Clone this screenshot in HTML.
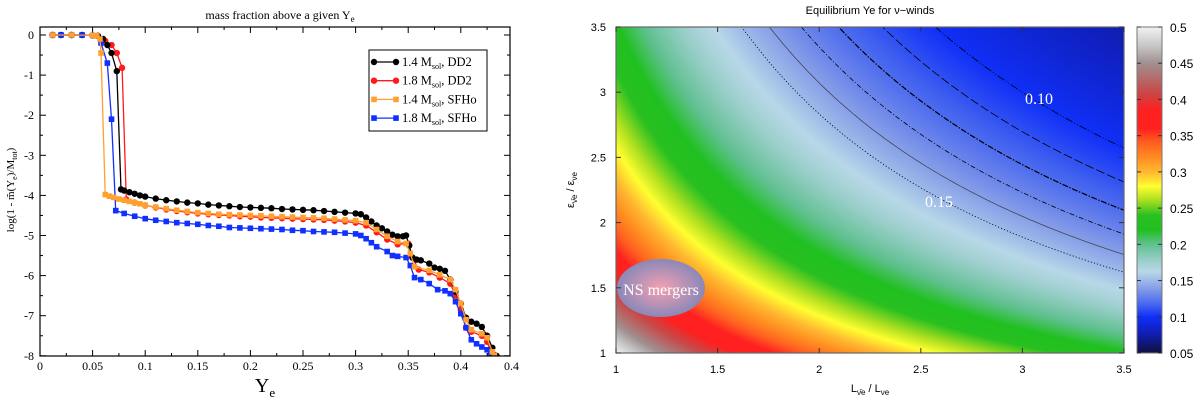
<!DOCTYPE html>
<html><head><meta charset="utf-8"><style>
body{margin:0;background:#fff;width:1200px;height:400px;overflow:hidden;position:relative}
svg{position:absolute;left:0;top:0}
canvas{position:absolute;left:616px;top:27px}
</style></head><body>
<canvas id="heat" width="508" height="326"></canvas>
<svg id="s" width="1200" height="400"></svg>
<script>
// ---------- Left chart data ----------
const blackX=[0.012,0.02,0.03,0.04,0.05,0.055,0.06,0.064,0.068,0.073,0.077,0.08,0.085,0.09,0.095,0.1,0.11,0.12,0.13,0.14,0.15,0.16,0.17,0.18,0.19,0.2,0.21,0.22,0.23,0.24,0.25,0.26,0.27,0.28,0.29,0.3,0.305,0.31,0.315,0.32,0.325,0.33,0.335,0.34,0.345,0.348,0.351,0.354,0.358,0.362,0.37,0.375,0.38,0.385,0.39,0.395,0.4,0.405,0.41,0.415,0.42,0.425,0.43,0.434];
const blackY=[0,0,0,0,-0.01,-0.02,-0.1,-0.25,-0.45,-0.9,-3.85,-3.88,-3.92,-3.96,-4.0,-4.03,-4.08,-4.12,-4.15,-4.18,-4.2,-4.23,-4.25,-4.27,-4.29,-4.3,-4.31,-4.32,-4.34,-4.35,-4.36,-4.37,-4.39,-4.41,-4.43,-4.45,-4.47,-4.55,-4.65,-4.75,-4.82,-4.9,-4.98,-5.02,-5.02,-5.0,-5.25,-5.55,-5.6,-5.62,-5.7,-5.8,-5.83,-5.88,-6.1,-6.4,-6.7,-7.05,-7.15,-7.2,-7.28,-7.5,-7.8,-8.0];
const redX=[0.012,0.03,0.05,0.055,0.058,0.062,0.068,0.073,0.078,0.082,0.09,0.1,0.11,0.12,0.13,0.14,0.15,0.16,0.17,0.18,0.19,0.2,0.21,0.22,0.23,0.24,0.25,0.26,0.27,0.28,0.29,0.3,0.31,0.32,0.33,0.34,0.35,0.354,0.36,0.37,0.38,0.39,0.395,0.4,0.405,0.41,0.42,0.425,0.43];
const redY=[0,0,-0.01,-0.02,-0.1,-0.15,-0.25,-0.45,-0.82,-4.1,-4.18,-4.25,-4.3,-4.35,-4.39,-4.42,-4.45,-4.47,-4.49,-4.5,-4.52,-4.53,-4.55,-4.56,-4.57,-4.58,-4.59,-4.6,-4.61,-4.63,-4.65,-4.68,-4.75,-4.92,-5.1,-5.22,-5.2,-5.55,-5.85,-5.92,-6.05,-6.2,-6.5,-6.85,-7.3,-7.4,-7.5,-7.65,-8.0];
const orangeX=[0.012,0.03,0.05,0.054,0.057,0.058,0.062,0.066,0.07,0.075,0.08,0.085,0.09,0.095,0.1,0.11,0.12,0.13,0.14,0.15,0.16,0.17,0.18,0.19,0.2,0.21,0.22,0.23,0.24,0.25,0.26,0.27,0.28,0.29,0.3,0.31,0.32,0.33,0.34,0.348,0.352,0.356,0.37,0.38,0.39,0.395,0.4,0.405,0.41,0.42,0.425,0.43,0.432];
const orangeY=[0,0,-0.01,-0.02,-0.1,-0.45,-3.98,-4.02,-4.05,-4.09,-4.12,-4.15,-4.18,-4.21,-4.25,-4.29,-4.33,-4.37,-4.4,-4.43,-4.45,-4.47,-4.48,-4.49,-4.5,-4.51,-4.52,-4.53,-4.54,-4.55,-4.56,-4.57,-4.59,-4.61,-4.63,-4.68,-4.85,-5.02,-5.15,-5.2,-5.45,-5.78,-5.87,-5.98,-6.1,-6.35,-6.7,-7.1,-7.35,-7.45,-7.55,-7.9,-8.0];
const blueX=[0.012,0.02,0.03,0.04,0.05,0.054,0.058,0.064,0.068,0.072,0.08,0.09,0.1,0.11,0.12,0.13,0.14,0.15,0.16,0.17,0.18,0.19,0.2,0.21,0.22,0.23,0.24,0.25,0.26,0.27,0.28,0.29,0.3,0.305,0.31,0.315,0.32,0.33,0.335,0.34,0.348,0.352,0.356,0.362,0.37,0.378,0.385,0.39,0.395,0.4,0.405,0.41,0.415,0.42,0.425,0.428];
const blueY=[0,0,0,0,-0.01,-0.02,-0.2,-0.7,-2.1,-4.38,-4.45,-4.52,-4.58,-4.62,-4.65,-4.68,-4.7,-4.72,-4.75,-4.77,-4.8,-4.81,-4.82,-4.83,-4.84,-4.85,-4.87,-4.88,-4.9,-4.91,-4.92,-4.94,-4.96,-5.0,-5.08,-5.18,-5.28,-5.4,-5.5,-5.52,-5.55,-5.75,-6.05,-6.1,-6.2,-6.35,-6.38,-6.45,-6.65,-6.95,-7.3,-7.6,-7.7,-7.78,-7.85,-8.0];
const xTicks=[0,0.05,0.1,0.15,0.2,0.25,0.3,0.35,0.4,0.45];
const xTickLabels=["0","0.05","0.1","0.15","0.2","0.25","0.3","0.35","0.4","0.45"];
const yTicks=[0,-1,-2,-3,-4,-5,-6,-7,-8];

// ---------- Right chart data ----------
const lumTicks=[1,1.5,2,2.5,3,3.5];
const epsTicks=[1,1.5,2,2.5,3,3.5];
const cbTicks=[0.05,0.1,0.15,0.2,0.25,0.3,0.35,0.4,0.45,0.5];
const contourLevels=[0.15,0.14,0.13,0.12,0.11,0.10];
const contourDash=["1.2,2","","5,2,1,2","6,1.5,1.5,1.5","9,3","8,2,1,2,1,2"];
const cmapV=[0.05,0.08,0.1,0.115,0.137,0.162,0.175,0.2,0.22,0.24,0.262,0.28,0.3,0.32,0.34,0.36,0.385,0.41,0.45,0.475,0.5];
const cmapC=["#101040","#1020c0","#1030f8","#4060f0","#8098e8","#b8d8e8","#a0d0d0","#60c090","#20c020","#28c020","#b0e020","#ffff30","#ffb830","#ff8c20","#ff6020","#ff2020","#ff2020","#c84848","#a09090","#c8c8c8","#f2f2f2"];

const NS="http://www.w3.org/2000/svg";
const svg=document.getElementById('s');
function mk(t,a,p){const e=document.createElementNS(NS,t);for(const k in a)e.setAttribute(k,a[k]);(p||svg).appendChild(e);return e;}

// ===== Left chart =====
const L={x0:40,x1:510,y0:27,y1:356};
const lx=v=>40+v/0.05*52.6;
const ly=v=>35-v*40.1;
const left=mk('g',{});


const lt=mk('text',{x:280,y:19,'text-anchor':'middle','font-family':'Liberation Serif,serif','font-size':12},left);

lt.innerHTML='mass fraction above a given Y<tspan font-size="9" dy="3">e</tspan>';
const clip=mk('clipPath',{id:'lc'});mk('rect',{x:L.x0,y:L.y0,width:L.x1-L.x0,height:L.y1-L.y0},clip);
// ticks
for(let i=0;i<=18;i++){const v=i*0.025;const X=lx(v);if(X>L.x1)continue;const len=i%2?3:6;
 const t1=mk('line',{x1:X,x2:X,y1:L.y1,y2:L.y1-len,stroke:'#000'},left);
 const t2=mk('line',{x1:X,x2:X,y1:L.y0,y2:L.y0+len,stroke:'#000'},left);}
for(let i=0;i<=17;i++){const v=0.5-i*0.5;const Y=ly(v);if(Y<L.y0||Y>L.y1)continue;const len=i%2?6:3;
 const t1=mk('line',{x1:L.x0,x2:L.x0+len,y1:Y,y2:Y,stroke:'#000'},left);
 const t2=mk('line',{x1:L.x1,x2:L.x1-len,y1:Y,y2:Y,stroke:'#000'},left);}
xTicks.forEach((v,i)=>{const t=mk('text',{x:lx(v),y:370,'text-anchor':'middle','font-family':'Liberation Serif,serif','font-size':12},left);
 t.textContent=xTickLabels[i];
 if(lx(v)>L.x1){t.setAttribute('text-anchor','start');t.setAttribute('x',L.x1-6);t.textContent='0.4';}});
yTicks.forEach(v=>{const t=mk('text',{x:34,y:ly(v)+4,'text-anchor':'end','font-family':'Liberation Serif,serif','font-size':12},left);
 t.textContent=v;});
const xt=mk('text',{x:265,y:392,'text-anchor':'middle','font-family':'Liberation Serif,serif','font-size':20},left);

xt.innerHTML='Y<tspan font-size="13" dy="5">e</tspan>';
const yt=mk('text',{x:0,y:0,'text-anchor':'middle','font-family':'Liberation Serif,serif','font-size':11,transform:'translate(14,190) rotate(-90)'},left);

yt.innerHTML='log(1 - m̃(Y<tspan font-size="8" dy="3">e</tspan><tspan dy="-3">)/M</tspan><tspan font-size="8" dy="3">tot</tspan><tspan dy="-3">)</tspan>';
const series=[
 {n:'series-1-4-dd2',x:blackX,y:blackY,c:'#000',m:'c',lab:'1.4 M',tail:', DD2'},
 {n:'series-1-8-dd2',x:redX,y:redY,c:'#ff1a1a',m:'c',lab:'1.8 M',tail:', DD2'},
 {n:'series-1-4-sfho',x:orangeX,y:orangeY,c:'#ffa030',m:'s',lab:'1.4 M',tail:', SFHo'},
 {n:'series-1-8-sfho',x:blueX,y:blueY,c:'#1030ff',m:'s',lab:'1.8 M',tail:', SFHo'}];
const drawOrder=[1,0,3,2];
drawOrder.forEach(k=>{const s=series[k];const g=mk('g',{'clip-path':'url(#lc)'},left);
 
 const d=s.x.map((v,i)=>(i?'L':'M')+lx(v).toFixed(1)+','+ly(s.y[i]).toFixed(1)).join('');
 const p=mk('path',{d:d,fill:'none',stroke:s.c,'stroke-width':1.3},g);
 s.x.forEach((v,i)=>{let e;if(s.m==='c')e=mk('circle',{cx:lx(v),cy:ly(s.y[i]),r:3.2,fill:s.c},g);
  else e=mk('rect',{x:lx(v)-2.8,y:ly(s.y[i])-2.8,width:5.6,height:5.6,fill:s.c},g);
  });});
const fr=mk('rect',{x:L.x0,y:L.y0,width:L.x1-L.x0,height:L.y1-L.y0,fill:'none',stroke:'#000','stroke-width':1.2},left);

// legend
const lg=mk('g',{},left);
mk('rect',{x:369,y:50,width:118,height:81,fill:'#fff',stroke:'#000'},lg);
series.forEach((s,i)=>{const Y=62+i*18.7;const e=mk('g',{},lg);
 mk('line',{x1:374,x2:396,y1:Y,y2:Y,stroke:s.c,'stroke-width':1.3},e);
 [374,396].forEach(X=>{if(s.m==='c')mk('circle',{cx:X,cy:Y,r:3.2,fill:s.c},e);else mk('rect',{x:X-2.8,y:Y-2.8,width:5.6,height:5.6,fill:s.c},e);});
 const t=mk('text',{x:402,y:Y+4,'font-family':'Liberation Serif,serif','font-size':12.5},e);
 t.innerHTML=s.lab+'<tspan font-size="8" dy="3">sol</tspan><tspan dy="-3">'+s.tail+'</tspan>';});

// ===== Right chart =====
const R={x0:616,x1:1124,y0:27,y1:353};
const rx=v=>R.x0+(v-1)/2.5*(R.x1-R.x0);
const ry=v=>R.y1-(v-1)/2.5*(R.y1-R.y0);
function hex(c){return [1,3,5].map(i=>parseInt(c.substr(i,2),16));}
const cm=cmapC.map(hex);
function col(v){if(v<=cmapV[0])return cm[0];for(let i=1;i<cmapV.length;i++){if(v<=cmapV[i]){const t=(v-cmapV[i-1])/(cmapV[i]-cmapV[i-1]);return cm[i].map((c,j)=>cm[i-1][j]+(c-cm[i-1][j])*t);}}return cm[cm.length-1];}
function ye(L,E){return 1/(1+L*E);}
const cv=document.getElementById('heat');const ctx=cv.getContext('2d');const img=ctx.createImageData(508,326);
for(let j=0;j<326;j++)for(let i=0;i<508;i++){const L=1+(i+0.5)/508*2.5,E=3.5-(j+0.5)/326*2.5;const c=col(ye(L,E));const k=(j*508+i)*4;img.data[k]=c[0];img.data[k+1]=c[1];img.data[k+2]=c[2];img.data[k+3]=255;}
ctx.putImageData(img,0,0);
const right=mk('g',{});
const rclip=mk('clipPath',{id:'rc'});mk('rect',{x:R.x0,y:R.y0,width:R.x1-R.x0,height:R.y1-R.y0},rclip);
contourLevels.forEach((lv,k)=>{let d='';for(let i=0;i<=200;i++){const L=1+i/200*2.5;const E=(1/lv-1)/L;d+=(i?'L':'M')+rx(L).toFixed(1)+','+ry(E).toFixed(1);}
 const p=mk('path',{d:d,fill:'none',stroke:k==1?'#445':'#000','stroke-width':k==3?1.2:0.8,'stroke-dasharray':contourDash[k],'clip-path':'url(#rc)'},right);
 });
const c1=mk('text',{x:1039,y:104,'text-anchor':'middle',fill:'#fff','font-family':'Liberation Serif,serif','font-size':16},right);c1.textContent='0.10';

const c2=mk('text',{x:939,y:207,'text-anchor':'middle',fill:'#fff','font-family':'Liberation Serif,serif','font-size':16},right);c2.textContent='0.15';

const defs=mk('defs',{});const rg=mk('radialGradient',{id:'eg'},defs);
mk('stop',{offset:'0','stop-color':'#f4a0b0'},rg);mk('stop',{offset:'1','stop-color':'#8a88b8'},rg);
const el=mk('ellipse',{cx:661,cy:288,rx:44,ry:29,fill:'url(#eg)'},right);
const nt=mk('text',{x:661,y:295,'text-anchor':'middle',fill:'#fff','font-family':'Liberation Serif,serif','font-size':16},right);nt.textContent='NS mergers';

const rf=mk('rect',{x:R.x0,y:R.y0,width:R.x1-R.x0,height:R.y1-R.y0,fill:'none',stroke:'#666','stroke-width':1.2},right);

lumTicks.forEach(v=>{const X=rx(v);mk('line',{x1:X,x2:X,y1:R.y1,y2:R.y1-5,stroke:'#333'},right);mk('line',{x1:X,x2:X,y1:R.y0,y2:R.y0+5,stroke:'#333'},right);
 const t=mk('text',{x:X,y:373,'text-anchor':'middle','font-family':'Liberation Sans,sans-serif','font-size':11},right);t.textContent=v;
 });
epsTicks.forEach(v=>{const Y=ry(v);mk('line',{x1:R.x0,x2:R.x0+5,y1:Y,y2:Y,stroke:'#333'},right);mk('line',{x1:R.x1,x2:R.x1-5,y1:Y,y2:Y,stroke:'#333'},right);
 const t=mk('text',{x:606,y:Y+4,'text-anchor':'end','font-family':'Liberation Sans,sans-serif','font-size':11},right);t.textContent=v;
 });
const rt=mk('text',{x:870,y:14,'text-anchor':'middle','font-family':'Liberation Sans,sans-serif','font-size':11},right);rt.textContent='Equilibrium Ye for ν−winds';

const rxt=mk('text',{x:870,y:392,'text-anchor':'middle','font-family':'Liberation Sans,sans-serif','font-size':11},right);
rxt.innerHTML='L<tspan font-size="8" dy="3">ν̄e</tspan><tspan dy="-3"> / L</tspan><tspan font-size="8" dy="3">νe</tspan>';

const ryt=mk('text',{x:0,y:0,'text-anchor':'middle','font-family':'Liberation Sans,sans-serif','font-size':11,transform:'translate(574,190) rotate(-90)'},right);
ryt.innerHTML='ε<tspan font-size="8" dy="3">ν̄e</tspan><tspan dy="-3"> / ε</tspan><tspan font-size="8" dy="3">νe</tspan>';

// colorbar
const cb=mk('g',{});
const lgd=mk('linearGradient',{id:'cbg',x1:0,y1:1,x2:0,y2:0},defs);
cmapV.forEach((v,i)=>mk('stop',{offset:((v-0.05)/0.45).toFixed(4),'stop-color':cmapC[i]},lgd));
mk('rect',{x:1137,y:27,width:25,height:326,fill:'url(#cbg)',stroke:'#777','stroke-width':1},cb);
const cy=v=>353-(v-0.05)/0.45*326;
cbTicks.forEach(v=>{const Y=cy(v);mk('line',{x1:1137,x2:1141,y1:Y,y2:Y,stroke:'#333'},cb);mk('line',{x1:1162,x2:1158,y1:Y,y2:Y,stroke:'#333'},cb);
 const t=mk('text',{x:1170,y:Y+5,'font-family':'Liberation Sans,sans-serif','font-size':12},cb);t.textContent=v;
 });
</script>
</body></html>
